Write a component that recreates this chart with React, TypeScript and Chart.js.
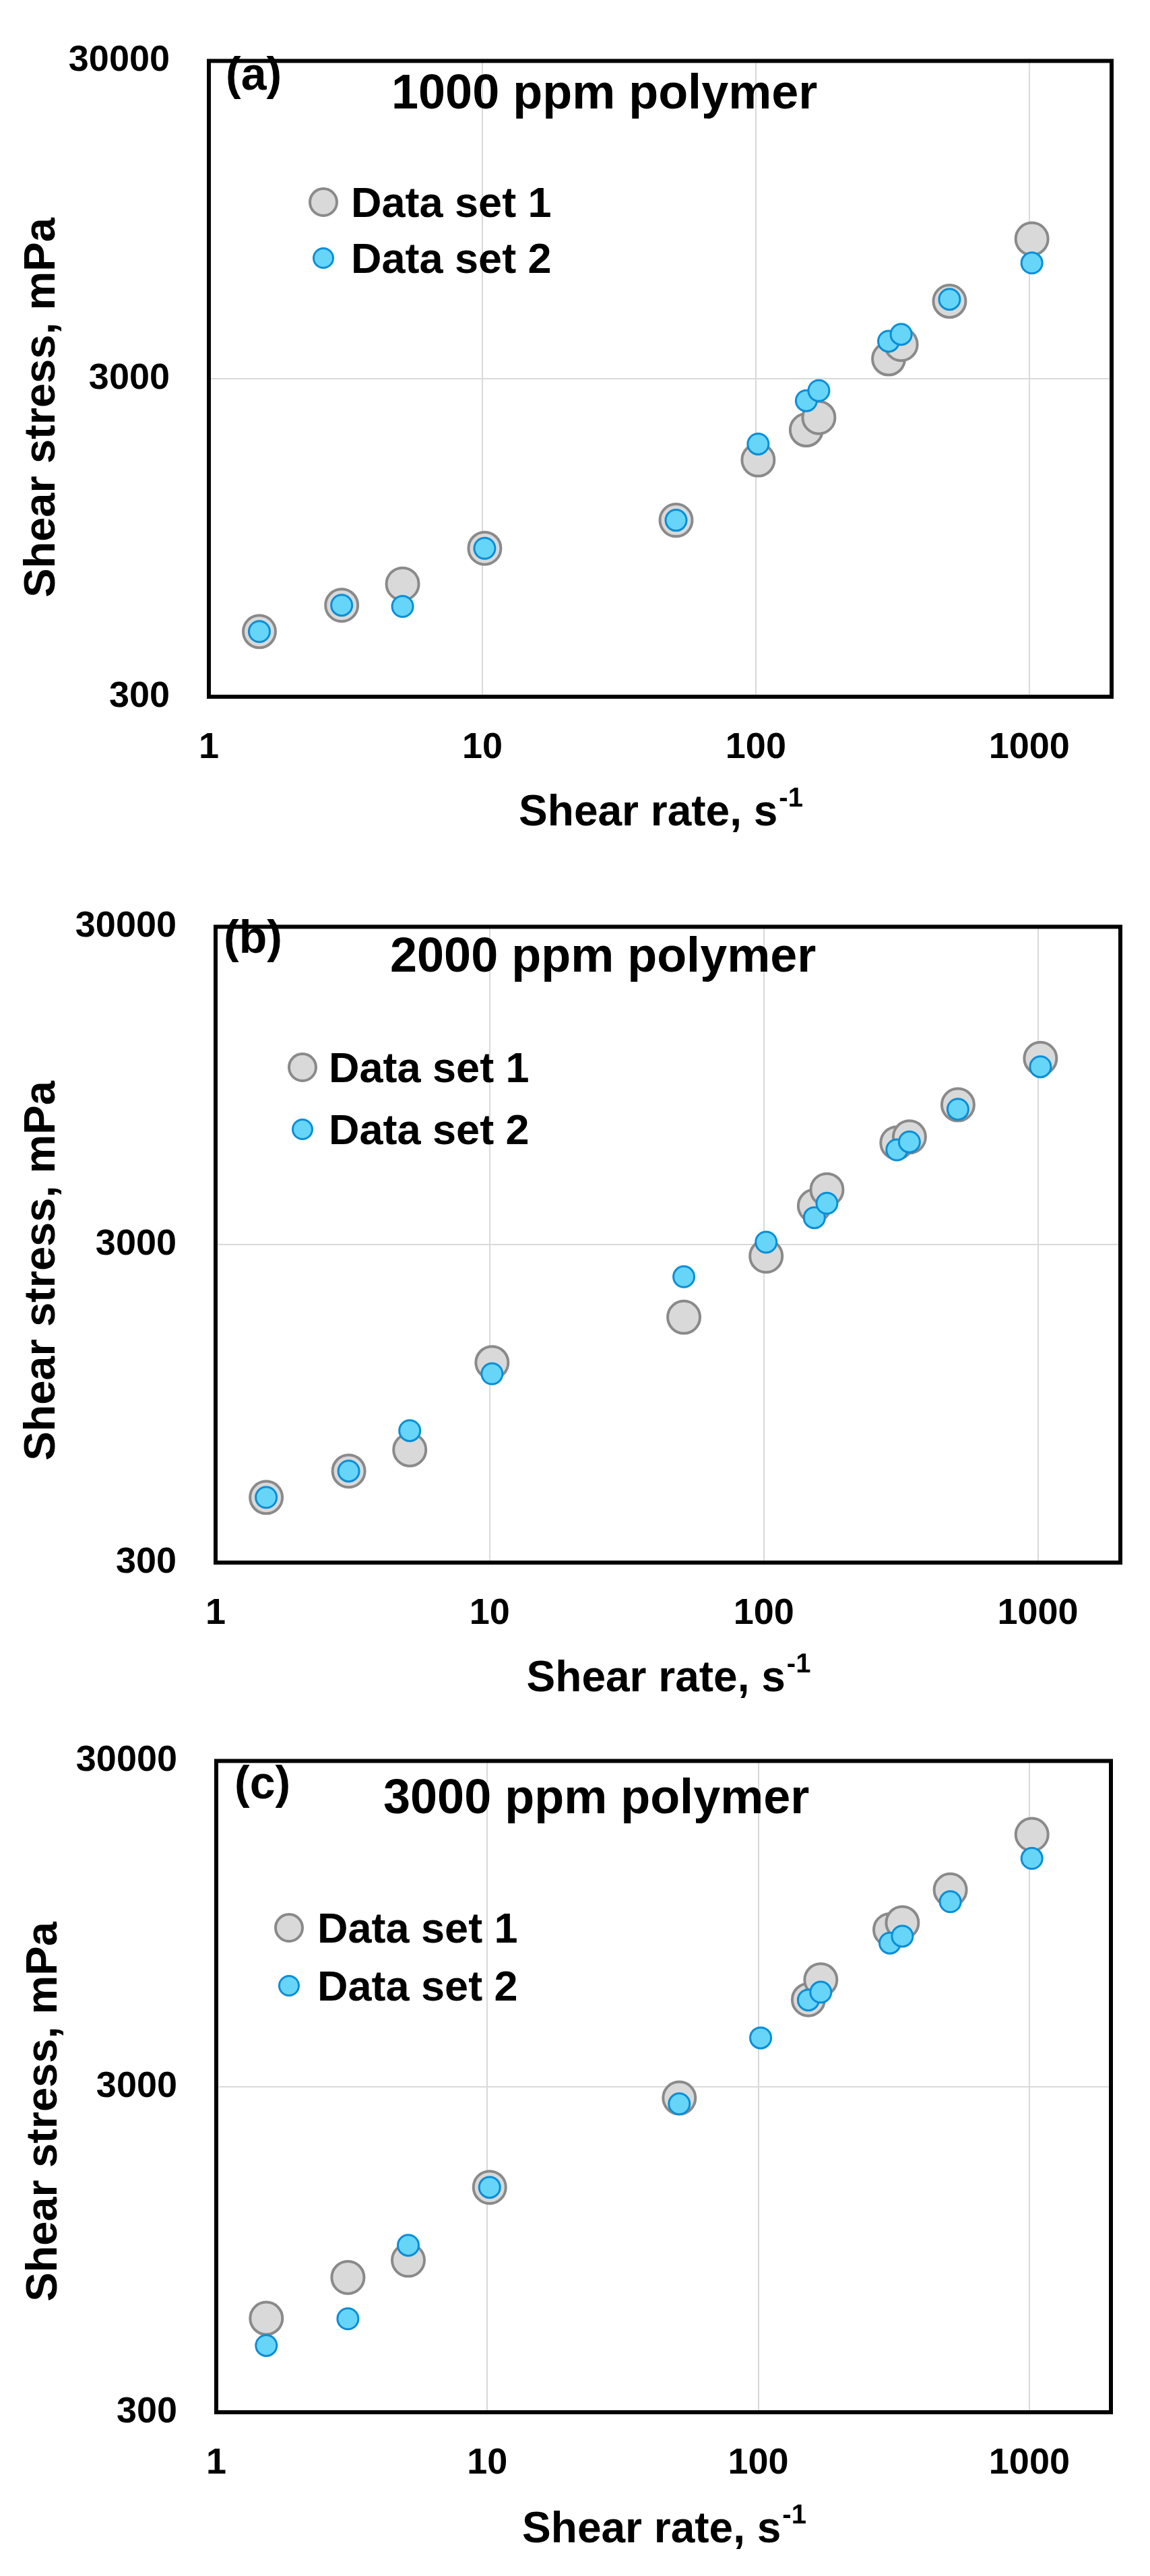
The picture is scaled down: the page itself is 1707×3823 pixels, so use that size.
import React, { useEffect, useRef } from "react";
import { Chart, registerables } from "chart.js";

Chart.register(...registerables);

// shear rates (s-1) shared by every panel
const shearRates = [1.53, 3.06, 5.11, 10.2, 51.1, 102, 153, 170, 306, 340, 511, 1022];
const xTicks = [1, 10, 100, 1000];
const yTicks = [300, 3000, 30000];

// shear stress (mPa)
const set1A = [481, 582, 679, 879, 1077, 1667, 2072, 2266, 3467, 3849, 5263, 8266];
const set2A = [481, 582, 577, 879, 1077, 1871, 2560, 2754, 3939, 4141, 5337, 6941];
const set1B = [481, 582, 679, 1277, 1774, 2762, 3974, 4467, 6270, 6546, 8266, 11560];
const set2B = [481, 582, 780, 1178, 2378, 3055, 3648, 4049, 5962, 6314, 8002, 10882];
const set1C = [583, 778, 879, 1472, 2768, null, 5546, 6383, 9095, 9560, 12050, 17830];
const set2C = [481, 581, 977, 1472, 2655, 4234, 5535, 5850, 8277, 8690, 11090, 15060];

const panelLabels = ["(a)", "(b)", "(c)"];
const headings = ["1000 ppm polymer", "2000 ppm polymer", "3000 ppm polymer"];
const seriesNames = ["Data set 1", "Data set 2"];

const W = 1707;
const FONT = '"Liberation Sans", Arial, sans-serif';
const GRAY_FILL = "#d9d9d9";
const GRAY_LINE = "#8a8a8a";
const BLUE_FILL = "#66d5f7";
const BLUE_LINE = "#0a8ed6";

interface Layout {
  h: number;
  left: number;
  top: number;
  right: number;
  bottom: number;
  labelX: number;
  labelBase: number;
  headX: number;
  headBase: number;
  legX: number;
  legY1: number;
  legY2: number;
  legTextX: number;
  yTitleX: number;
  yTitleY: number;
  xTitleBase: number;
}

const layouts: Layout[] = [
  { h: 1285, left: 310, top: 55, right: 1650, bottom: 1034, labelX: 335, labelBase: 133, headX: 581, headBase: 161,
    legX: 480, legY1: 300, legY2: 383, legTextX: 521, yTitleX: 63, yTitleY: 605, xTitleBase: 1225 },
  { h: 1238, left: 320, top: 55, right: 1663, bottom: 1034, labelX: 332, labelBase: 129, headX: 579, headBase: 157,
    legX: 449, legY1: 299, legY2: 391, legTextX: 488, yTitleX: 63, yTitleY: 601, xTitleBase: 1225 },
  { h: 1300, left: 321, top: 52, right: 1649, bottom: 1057, labelX: 348, labelBase: 146, headX: 569, headBase: 168,
    legX: 429, legY1: 338, legY2: 424, legTextX: 471, yTitleX: 66, yTitleY: 611, xTitleBase: 1250 },
];

const toPoints = (ys: (number | null)[]) =>
  shearRates
    .map((x, i) => ({ x, y: ys[i] }))
    .filter((p) => p.y !== null) as { x: number; y: number }[];

interface PanelProps {
  idx: number;
  set1: (number | null)[];
  set2: (number | null)[];
}

const Panel: React.FC<PanelProps> = ({ idx, set1, set2 }) => {
  const canvasRef = useRef<HTMLCanvasElement | null>(null);
  const chartRef = useRef<Chart | null>(null);
  const L = layouts[idx];

  useEffect(() => {
    if (!canvasRef.current) return;
    if (chartRef.current) chartRef.current.destroy();

    const overlayPlugin = {
      id: "panelOverlay",
      afterDraw(chart: any) {
        const { ctx, chartArea } = chart;
        ctx.save();

        // frame
        ctx.strokeStyle = "#000";
        ctx.lineWidth = 6;
        ctx.strokeRect(chartArea.left, chartArea.top, chartArea.right - chartArea.left, chartArea.bottom - chartArea.top);

        ctx.fillStyle = "#000";
        ctx.textBaseline = "alphabetic";
        ctx.textAlign = "left";

        ctx.font = `bold 68px ${FONT}`;
        ctx.fillText(panelLabels[idx], L.labelX, L.labelBase);

        ctx.font = `bold 72px ${FONT}`;
        ctx.fillText(headings[idx], L.headX, L.headBase);

        // legend
        ctx.beginPath();
        ctx.arc(L.legX, L.legY1, 20, 0, Math.PI * 2);
        ctx.fillStyle = GRAY_FILL;
        ctx.fill();
        ctx.lineWidth = 4;
        ctx.strokeStyle = GRAY_LINE;
        ctx.stroke();

        ctx.beginPath();
        ctx.arc(L.legX, L.legY2, 14.5, 0, Math.PI * 2);
        ctx.fillStyle = BLUE_FILL;
        ctx.fill();
        ctx.lineWidth = 3;
        ctx.strokeStyle = BLUE_LINE;
        ctx.stroke();

        ctx.fillStyle = "#000";
        ctx.font = `bold 63px ${FONT}`;
        ctx.fillText(seriesNames[0], L.legTextX, L.legY1 + 22);
        ctx.fillText(seriesNames[1], L.legTextX, L.legY2 + 22);

        // x title with superscript
        const cx = (chartArea.left + chartArea.right) / 2;
        ctx.font = `bold 64px ${FONT}`;
        const main = "Shear rate, s";
        const mainW = ctx.measureText(main).width;
        ctx.font = `bold 40px ${FONT}`;
        const sup = "-1";
        const supW = ctx.measureText(sup).width;
        const startX = cx - (mainW + supW) / 2;
        ctx.font = `bold 64px ${FONT}`;
        ctx.fillText(main, startX, L.xTitleBase);
        ctx.font = `bold 40px ${FONT}`;
        ctx.fillText(sup, startX + mainW + 2, L.xTitleBase - 28);

        // y title
        ctx.translate(L.yTitleX, L.yTitleY);
        ctx.rotate(-Math.PI / 2);
        ctx.textAlign = "center";
        ctx.textBaseline = "middle";
        ctx.font = `bold 65px ${FONT}`;
        ctx.fillText("Shear stress, mPa", 0, 0);

        ctx.restore();
      },
    };

    const tickFont = { family: FONT, size: 54, weight: "bold" as const };

    chartRef.current = new Chart(canvasRef.current, {
      type: "scatter",
      data: {
        datasets: [
          {
            label: seriesNames[0],
            data: toPoints(set1),
            order: 1,
            pointRadius: 24,
            pointBackgroundColor: GRAY_FILL,
            pointBorderColor: GRAY_LINE,
            pointBorderWidth: 4,
          },
          {
            label: seriesNames[1],
            data: toPoints(set2),
            order: 0,
            pointRadius: 15.5,
            pointBackgroundColor: BLUE_FILL,
            pointBorderColor: BLUE_LINE,
            pointBorderWidth: 3,
          },
        ],
      },
      options: {
        responsive: false,
        animation: false,
        devicePixelRatio: 1,
        layout: { padding: { top: L.top, right: W - L.right, bottom: 0, left: 0 } },
        plugins: { legend: { display: false }, tooltip: { enabled: false } },
        scales: {
          x: {
            type: "logarithmic",
            min: 1,
            max: 2000,
            afterBuildTicks: (s: any) => {
              s.ticks = xTicks.map((v) => ({ value: v }));
            },
            afterFit: (s: any) => {
              s.height = L.h - L.bottom;
            },
            grid: { color: "#d9d9d9", lineWidth: 2, drawTicks: false },
            border: { display: false },
            ticks: {
              callback: (v: any) => String(v),
              font: tickFont,
              color: "#000",
              padding: 44,
              maxRotation: 0,
              autoSkip: false,
            },
          },
          y: {
            type: "logarithmic",
            min: 300,
            max: 30000,
            afterBuildTicks: (s: any) => {
              s.ticks = yTicks.map((v) => ({ value: v }));
            },
            afterFit: (s: any) => {
              s.width = L.left;
            },
            grid: { color: "#d9d9d9", lineWidth: 2, drawTicks: false },
            border: { display: false },
            ticks: {
              callback: (v: any) => String(v),
              font: tickFont,
              color: "#000",
              padding: 58,
              autoSkip: false,
            },
          },
        },
      },
      plugins: [overlayPlugin],
    });

    return () => {
      if (chartRef.current) {
        chartRef.current.destroy();
        chartRef.current = null;
      }
    };
  }, [idx, set1, set2]);

  return (
    <div style={{ width: W, height: L.h, position: "relative" }}>
      <canvas ref={canvasRef} width={W} height={L.h} style={{ display: "block", width: W, height: L.h }} />
    </div>
  );
};

const App: React.FC = () => {
  useEffect(() => {
    document.body.style.margin = "0";
    document.body.style.background = "#fff";
  }, []);

  return (
    <div style={{ width: W, background: "#fff" }}>
      <Panel idx={0} set1={set1A} set2={set2A} />
      <Panel idx={1} set1={set1B} set2={set2B} />
      <Panel idx={2} set1={set1C} set2={set2C} />
    </div>
  );
};

export default App;
